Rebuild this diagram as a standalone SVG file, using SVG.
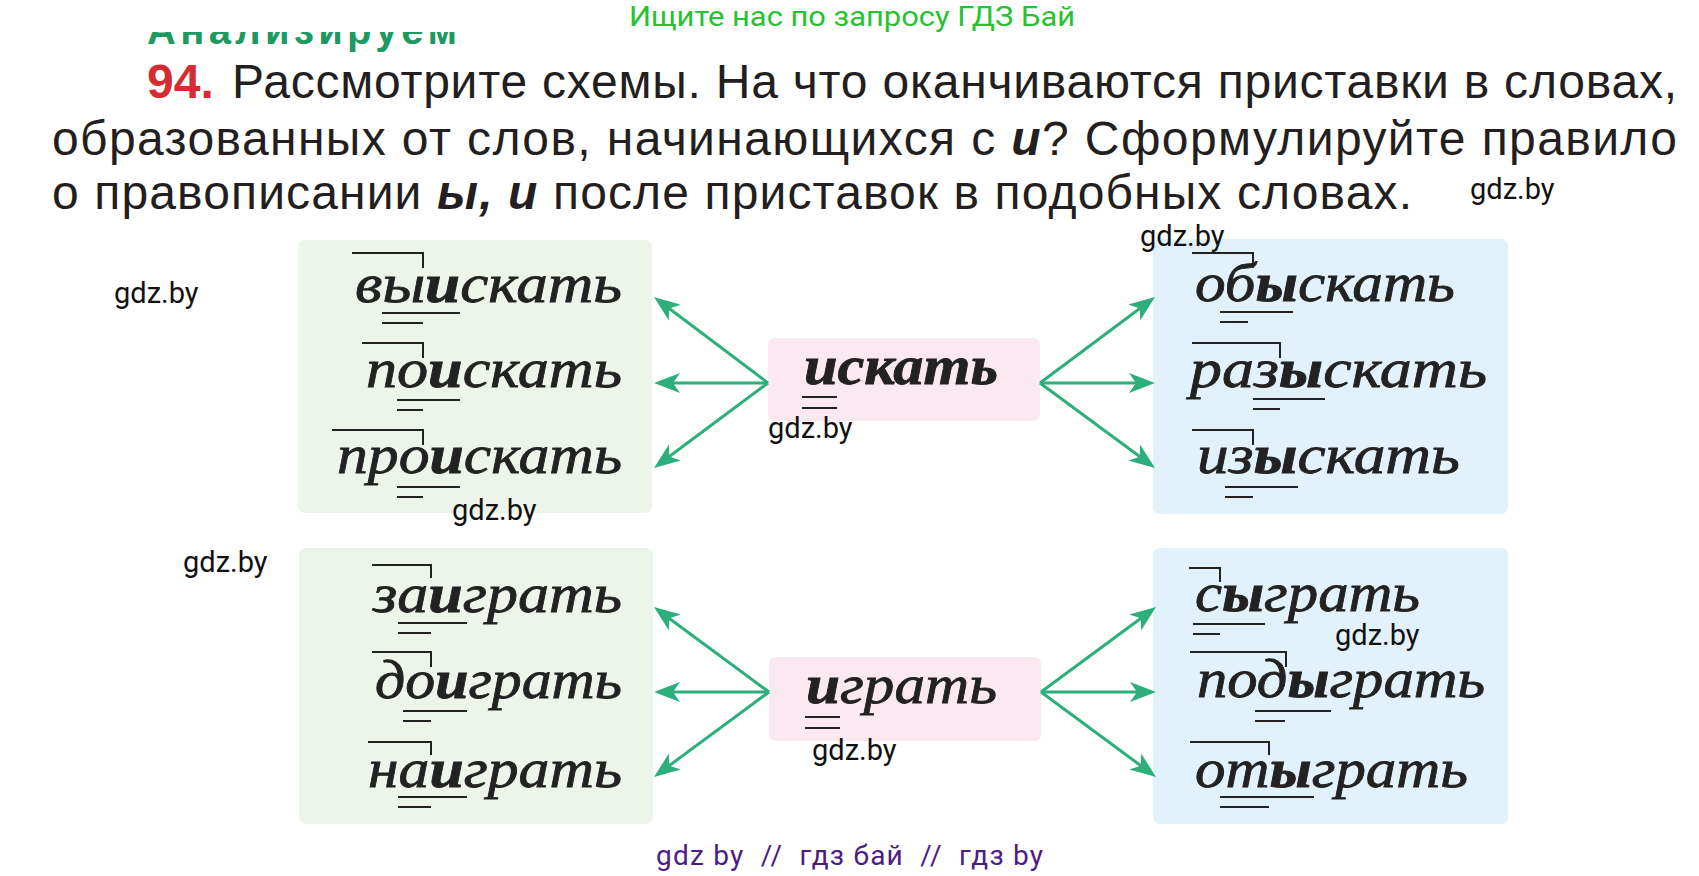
<svg xmlns="http://www.w3.org/2000/svg" width="1699" height="876" viewBox="0 0 1699 876">
<defs>
<style>
.hdr{font-family:"Roboto","Liberation Sans",sans-serif;font-size:27px;fill:#27c22f}
.task{font-family:"Liberation Sans","DejaVu Sans",sans-serif;font-size:48px;fill:#231f20}
.num{font-family:"Liberation Sans","DejaVu Sans",sans-serif;font-size:48px;font-weight:bold;fill:#d52b33}
.bi{font-weight:bold;font-style:italic}
.wm{font-family:"Roboto","Liberation Sans",sans-serif;font-size:29px;fill:#111}
.wmb{font-family:"Roboto","Liberation Sans",sans-serif;font-size:28px;fill:#4b1c84;white-space:pre}
.w{font-family:"Liberation Serif","DejaVu Serif",serif;font-style:italic;font-size:54px;fill:#222;stroke:#222;stroke-width:0.8}
.b{font-weight:bold}
.gbox{fill:#edf5ea}
.bbox{fill:#e1f2fc}
.pbox{fill:#fce8f0}
.mk{fill:none;stroke:#222;stroke-width:2}
.arr{stroke:#2daf7b;stroke-width:3;fill:none;marker-end:url(#ah)}
</style>
<marker id="ah" viewBox="-27 -11 28 22" refX="-12" refY="0" markerWidth="28" markerHeight="22" markerUnits="userSpaceOnUse" orient="auto">
<path d="M0,0 L-26,-10 L-19,0 L-26,10 Z" fill="#2daf7b"/>
</marker>
<clipPath id="cut"><rect x="0" y="32" width="700" height="30"/></clipPath>
</defs>
<rect width="1699" height="876" fill="#fff"/>

<g id="header">
<text class="hdr" x="629" y="26" textLength="446" lengthAdjust="spacingAndGlyphs">Ищите нас по запросу ГДЗ Бай</text>
<text x="147" y="44" clip-path="url(#cut)" font-family="Liberation Sans, sans-serif" font-weight="bold" font-size="40" fill="#1b9a62" textLength="310" lengthAdjust="spacing">Анализируем</text>
</g>

<g id="task">
<text class="num" x="147" y="98">94.</text>
<text class="task" x="232" y="98" textLength="1445" lengthAdjust="spacing">Рассмотрите схемы. На что оканчиваются приставки в словах,</text>
<text class="task" x="52" y="155" textLength="1625" lengthAdjust="spacing">образованных от слов, начинающихся с <tspan class="bi">и</tspan>? Сформулируйте правило</text>
<text class="task" x="52" y="209" textLength="1360" lengthAdjust="spacing">о правописании <tspan class="bi">ы, и</tspan> после приставок в подобных словах.</text>
</g>

<g id="boxes">
<rect id="box-left-top" class="gbox" x="298" y="240" width="354" height="273" rx="7"/>
<rect id="box-right-top" class="bbox" x="1153" y="239" width="355" height="275" rx="7"/>
<rect id="box-center-top" class="pbox" x="768" y="338" width="272" height="83" rx="7"/>
<rect id="box-left-bottom" class="gbox" x="299" y="548" width="354" height="276" rx="7"/>
<rect id="box-right-bottom" class="bbox" x="1153" y="548" width="355" height="276" rx="7"/>
<rect id="box-center-bottom" class="pbox" x="769" y="657" width="272" height="84" rx="7"/>
</g>

<g id="connectors">
<path class="arr" d="M768,383 L663.6,304.2"/>
<path class="arr" d="M768,383 L666,383"/>
<path class="arr" d="M768,383 L663.6,460.8"/>
<path class="arr" d="M1040,383 L1145.4,304.2"/>
<path class="arr" d="M1040,383 L1143,383"/>
<path class="arr" d="M1040,383 L1145.4,460.8"/>
<path class="arr" d="M769,692 L663.6,614.2"/>
<path class="arr" d="M769,692 L666,692"/>
<path class="arr" d="M769,692 L663.6,769.8"/>
<path class="arr" d="M1041,692 L1146.4,614.2"/>
<path class="arr" d="M1041,692 L1144,692"/>
<path class="arr" d="M1041,692 L1146.4,769.8"/>
</g>

<g id="w-iskat">
<text class="w b" x="804" y="384" textLength="194" lengthAdjust="spacingAndGlyphs">искать</text>
<path class="mk" d="M802,397 H837 M802,408 H837"/>
</g>
<g id="w-vyiskat">
<text class="w" x="355" y="302" textLength="267" lengthAdjust="spacingAndGlyphs">вы<tspan class="b">и</tspan>скать</text>
<path class="mk" d="M352,253 H423 V268 M382,313 H460 M382,323 H423"/>
</g>
<g id="w-poiskat">
<text class="w" x="366" y="387" textLength="256" lengthAdjust="spacingAndGlyphs">по<tspan class="b">и</tspan>скать</text>
<path class="mk" d="M362,343 H423 V358 M397,400 H460 M397,410 H423"/>
</g>
<g id="w-proiskat">
<text class="w" x="337" y="473" textLength="285" lengthAdjust="spacingAndGlyphs">про<tspan class="b">и</tspan>скать</text>
<path class="mk" d="M332,430 H423 V445 M397,487 H460 M397,497 H423"/>
</g>
<g id="w-obyskat">
<text class="w" x="1195" y="301" textLength="260" lengthAdjust="spacingAndGlyphs">об<tspan class="b">ы</tspan>скать</text>
<path class="mk" d="M1192,253 H1253 V268 M1220,312 H1293 M1220,322 H1248"/>
</g>
<g id="w-razyskat">
<text class="w" x="1190" y="387" textLength="297" lengthAdjust="spacingAndGlyphs">раз<tspan class="b">ы</tspan>скать</text>
<path class="mk" d="M1192,343 H1280 V358 M1253,399 H1325 M1253,409 H1280"/>
</g>
<g id="w-izyskat">
<text class="w" x="1197" y="473" textLength="263" lengthAdjust="spacingAndGlyphs">из<tspan class="b">ы</tspan>скать</text>
<path class="mk" d="M1192,430 H1253 V445 M1225,487 H1298 M1225,497 H1253"/>
</g>

<g id="w-igrat">
<text class="w" x="806" y="703" textLength="191" lengthAdjust="spacingAndGlyphs"><tspan class="b">и</tspan>грать</text>
<path class="mk" d="M805,717 H840 M805,728 H840"/>
</g>
<g id="w-zaigrat">
<text class="w" x="373" y="612" textLength="249" lengthAdjust="spacingAndGlyphs">за<tspan class="b">и</tspan>грать</text>
<path class="mk" d="M372,565 H431 V578 M398,623 H467 M398,633 H431"/>
</g>
<g id="w-doigrat">
<text class="w" x="375" y="698" textLength="247" lengthAdjust="spacingAndGlyphs">до<tspan class="b">и</tspan>грать</text>
<path class="mk" d="M372,652 H431 V667 M403,711 H467 M403,721 H431"/>
</g>
<g id="w-naigrat">
<text class="w" x="368" y="787" textLength="254" lengthAdjust="spacingAndGlyphs">на<tspan class="b">и</tspan>грать</text>
<path class="mk" d="M368,742 H431 V755 M398,797 H467 M398,807 H431"/>
</g>
<g id="w-sygrat">
<text class="w" x="1195" y="611" textLength="225" lengthAdjust="spacingAndGlyphs">с<tspan class="b">ы</tspan>грать</text>
<path class="mk" d="M1189,568 H1220 V582 M1193,624 H1265 M1193,634 H1220"/>
</g>
<g id="w-podygrat">
<text class="w" x="1197" y="697" textLength="288" lengthAdjust="spacingAndGlyphs">под<tspan class="b">ы</tspan>грать</text>
<path class="mk" d="M1190,652 H1286 V667 M1255,711 H1331 M1255,721 H1285"/>
</g>
<g id="w-otygrat">
<text class="w" x="1195" y="787" textLength="273" lengthAdjust="spacingAndGlyphs">от<tspan class="b">ы</tspan>грать</text>
<path class="mk" d="M1190,742 H1269 V755 M1220,797 H1314 M1220,807 H1269"/>
</g>

<g id="watermarks">
<text class="wm" x="1470" y="199">gdz.by</text>
<text class="wm" x="1140" y="246">gdz.by</text>
<text class="wm" x="114" y="303">gdz.by</text>
<text class="wm" x="452" y="520">gdz.by</text>
<text class="wm" x="768" y="438">gdz.by</text>
<text class="wm" x="183" y="572">gdz.by</text>
<text class="wm" x="1335" y="645">gdz.by</text>
<text class="wm" x="812" y="760">gdz.by</text>
<text class="wmb" x="656" y="865" textLength="387" lengthAdjust="spacing">gdz by  //  гдз бай  //  гдз by</text>
</g>
</svg>
